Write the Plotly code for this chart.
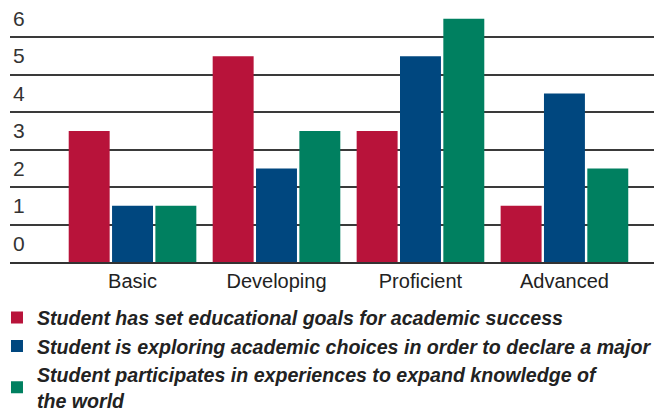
import plotly.graph_objects as go

# Levels on the x axis
categories = ["Basic", "Developing", "Proficient", "Advanced"]

# Number of students at each level, per outcome
goals_values = [3, 5, 3, 1]
major_values = [1, 2, 5, 4]
world_values = [1, 3, 6, 2]

series_names = [
    "Student has set educational goals for academic success",
    "Student is exploring academic choices in order to declare a major",
    "Student participates in experiences to expand knowledge of<br>the world",
]
series_colors = ["#B8133A", "#00477F", "#008060"]

y_ticks = [0, 1, 2, 3, 4, 5, 6]
# Rules sit halfway between the labelled values
grid_vals = [t + 0.5 for t in y_ticks[:-1]]

fig = go.Figure()
for name, vals, color in zip(series_names, [goals_values, major_values, world_values], series_colors):
    fig.add_trace(go.Bar(
        x=categories,
        y=[v + 0.5 for v in vals],
        base=-0.5,
        name=name,
        marker=dict(color=color, line=dict(width=0)),
    ))

fig.update_layout(
    width=654,
    height=416,
    margin=dict(l=10, r=0, t=0, b=154, autoexpand=False),
    paper_bgcolor="white",
    plot_bgcolor="white",
    barmode="group",
    bargap=0.097,
    bargroupgap=0.055,
    showlegend=True,
    legend=dict(
        orientation="v",
        xref="paper", yref="container",
        x=-0.0202, y=0.283, xanchor="left", yanchor="top",
        font=dict(family="Liberation Sans, Arial, sans-serif", size=19.6,
                  color="#222222", weight="bold", style="italic"),
        bgcolor="rgba(0,0,0,0)",
        traceorder="normal",
        itemclick=False,
    ),
    xaxis=dict(
        type="category",
        range=[-0.851, 3.622],
        showgrid=False,
        showline=True,
        linecolor="#333333",
        linewidth=2,
        ticks="",
        tickfont=dict(family="Liberation Sans, Arial, sans-serif", size=20, color="#222222"),
    ),
    yaxis=dict(
        range=[-0.5, 6.5],
        tickmode="array",
        tickvals=y_ticks,
        ticktext=[str(t) for t in y_ticks],
        showgrid=False,
        zeroline=False,
        ticks="",
        ticklabelposition="inside",
        tickfont=dict(family="Liberation Sans, Arial, sans-serif", size=21, color="#333333"),
        minor=dict(
            tickmode="array",
            tickvals=grid_vals,
            showgrid=True,
            gridcolor="#3a3a3a",
            gridwidth=1.5,
            ticks="",
        ),
    ),
)

fig.write_html("out.html")
